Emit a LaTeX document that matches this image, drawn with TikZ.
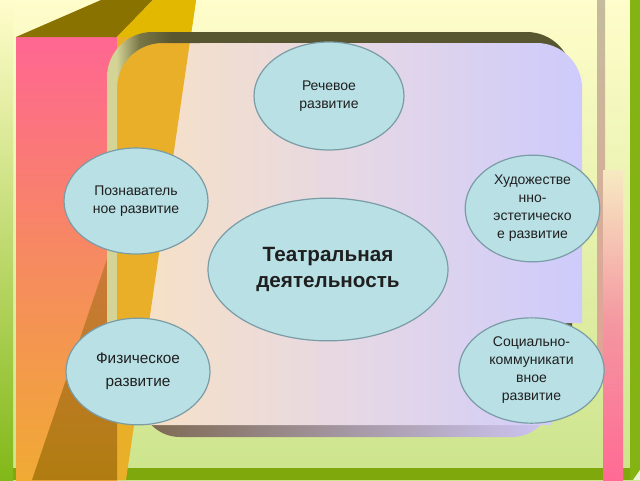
\documentclass[tikz,border=0pt]{standalone}
\usepackage{fontspec}
\setmainfont{Liberation Sans}
\usepackage{xcolor}
\usetikzlibrary{shapes.geometric}

\definecolor{bgtop}{RGB}{255,253,203}
\definecolor{bgbottom}{RGB}{204,228,140}
\definecolor{leftgreen}{RGB}{130,184,24}
\definecolor{grass}{RGB}{126,168,11}
\definecolor{grassright}{RGB}{132,180,20}
\definecolor{railgray}{RGB}{196,188,156}
\definecolor{railrose}{RGB}{226,164,150}
\definecolor{railpale}{RGB}{246,234,194}
\definecolor{railsalmon}{RGB}{244,150,160}
\definecolor{railpink}{RGB}{255,106,148}
\definecolor{boxpink}{RGB}{255,102,146}
\definecolor{boxsalmon}{RGB}{246,138,96}
\definecolor{boxorange}{RGB}{240,170,52}
\definecolor{boxtop}{RGB}{138,114,0}
\definecolor{boxside}{RGB}{233,175,40}
\definecolor{boxsidetop}{RGB}{226,184,0}
\definecolor{boxshade}{RGB}{176,124,16}
\definecolor{boxshadetop}{RGB}{204,122,60}
\definecolor{panelleft}{RGB}{248,226,194}
\definecolor{panelmid}{RGB}{230,216,228}
\definecolor{panelright}{RGB}{206,203,252}
\definecolor{bandpale}{RGB}{212,212,150}
\definecolor{bandmid}{RGB}{120,118,70}
\definecolor{banddark}{RGB}{88,86,48}
\definecolor{lowbandleft}{RGB}{124,104,80}
\definecolor{lowbandright}{RGB}{206,198,244}
\definecolor{bubblefill}{RGB}{185,224,229}
\definecolor{bubbleline}{RGB}{122,156,166}

% the path box is mapped on 25bp..75bp
\pgfdeclarehorizontalshading{topband}{100bp}{color(0bp)=(bandpale); color(26bp)=(bandpale); color(28.5bp)=(bandmid); color(32bp)=(banddark); color(100bp)=(banddark)}

\tikzset{
  bubble/.style={ellipse, draw=bubbleline, fill=bubblefill, line width=0.9pt, inner sep=0pt, align=center, text=black!88},
  smalltext/.style={font=\fontsize{10.5}{13.5}\selectfont},
}

\begin{document}
\begin{tikzpicture}[x=0.75pt,y=0.75pt,yscale=-1,xscale=1]
        \useasboundingbox (0,0) rectangle (640,480);

        %Shape: Background
        \shade [top color=bgtop, bottom color=bgbottom] (0,0) rectangle (640,480);
        %Shape: Bottom grass
        \fill [grass] (0,468) rectangle (640,480);
        %Shape: Left strip
        \shade [top color=bgtop, bottom color=leftgreen] (0,0) rectangle (13,480);
        %Shape: Right rails
        \fill [grassright] (630,0) rectangle (640,480);
        \shade [top color=railgray, bottom color=railrose] (597,0) rectangle (605,360);
        \shade [top color=railpale, bottom color=railpink, middle color=railsalmon] (603,170) rectangle (623,480);
        \fill [white!85!grassright] (633,480) -- (640,470) -- (640,480) -- cycle;

        %Shape: Panel lower shadow
        \shade [left color=lowbandleft, right color=lowbandright, rounded corners=30pt] (140,300) rectangle (552,437);
        %Shape: Panel upper shadow
        \shade [shading=topband, rounded corners=34pt] (107,32) rectangle (572,414);
        %Shape: Panel
        \shade [left color=panelleft, right color=panelright, middle color=panelmid] (117,425) [rounded corners=34pt] -- (117,43) -- (582,43) -- (582,120) [sharp corners] -- (582,323) -- (552,323) -- (552,425) -- cycle;

        %Shape: Box front
        \shade [top color=boxpink, bottom color=boxorange, middle color=boxsalmon] (16,37) rectangle (117,480);
        %Shape: Box top
        \fill [boxtop] (16,37) -- (101,0) -- (153,0) -- (117,37) -- cycle;
        %Shape: Box side
        \fill [boxside] (117,37) -- (153,0) -- (196,0) -- (126,480) -- (117,480) -- cycle;
        \fill [boxsidetop] (117,37) -- (153,0) -- (196,0) -- (190.6,37) -- cycle;
        %Shape: Box shade
        \shade [top color=boxshadetop, bottom color=boxshade] (110,250) -- (117,250) -- (117,480) -- (32,480) -- cycle;

        %Shape: Panel upper shadow over the box
        \begin{scope}
          \clip (100,0) rectangle (200,330);
          \shade [shading=topband, even odd rule, rounded corners=34pt] (107,32) rectangle (572,414) (117,414) -- (117,43) -- (572,43) -- (572,414) -- cycle;
        \end{scope}

        % Text Node
        \node [bubble, smalltext, minimum width=112.5pt, minimum height=81pt] (speech) at (329,96) {Речевое\\развитие};
        % Text Node
        \node [bubble, smalltext, minimum width=108pt, minimum height=79.5pt] (cognitive) at (136,201) {Познаватель\\ное развитие};
        % Text Node
        \node [bubble, smalltext, minimum width=101pt, minimum height=80pt] (artistic) at (532.5,208.5) {Художестве\\нно-\\эстетическо\\е развитие};
        % Text Node
        \node [bubble, font=\fontsize{15.5}{19.5}\selectfont\bfseries, minimum width=180pt, minimum height=107pt] (theatre) at (328,269.5) {Театральная\\деятельность};
        % Text Node
        \node [bubble, font=\fontsize{11.5}{17}\selectfont, minimum width=108pt, minimum height=80pt] (physical) at (138,371.5) {Физическое\\развитие};
        % Text Node
        \node [bubble, smalltext, minimum width=109pt, minimum height=79pt] (social) at (531.5,370.5) {Социально-\\коммуникати\\вное\\развитие};

\end{tikzpicture}
\end{document}
